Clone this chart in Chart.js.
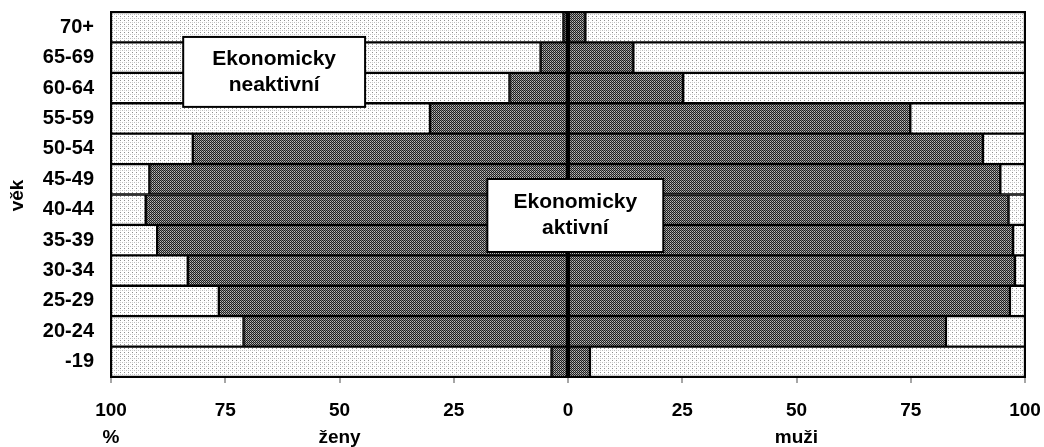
<!DOCTYPE html>
<html>
<head>
<meta charset="utf-8">
<script src="https://cdn.jsdelivr.net/npm/chart.js@4/dist/chart.umd.min.js"></script>
<style>
  html, body { margin: 0; padding: 0; background: #fff; }
  #wrap { width: 1044px; height: 447px; }
</style>
</head>
<body>
<div id="wrap"><canvas id="c" width="1044" height="447"></canvas></div>
<script>
// ---- data ----
const ageGroups = ['70+','65-69','60-64','55-59','50-54','45-49','40-44','35-39','30-34','25-29','20-24','-19'];
const womenActive   = [1.0, 6.0, 12.8, 30.2, 82.1, 91.6, 92.4, 89.9, 83.2, 76.4, 71.0, 3.6];
const womenInactive = [99.0, 94.0, 87.2, 69.8, 17.9, 8.4, 7.6, 10.1, 16.8, 23.6, 29.0, 96.4];
const menActive     = [3.8, 14.3, 25.2, 74.9, 90.8, 94.6, 96.4, 97.4, 97.8, 96.7, 82.7, 4.8];
const menInactive   = [96.2, 85.7, 74.8, 25.1, 9.2, 5.4, 3.6, 2.6, 2.2, 3.3, 17.3, 95.2];
const xTicks = [-100, -75, -50, -25, 0, 25, 50, 75, 100];
const sideLabels = ['%', 'ženy', 'muži'];

// ---- patterns ----
function makePattern(draw, w, h) {
  const c = document.createElement('canvas');
  c.width = w; c.height = h;
  const g = c.getContext('2d');
  draw(g);
  return g.createPattern(c, 'repeat');
}
const ctx = document.getElementById('c').getContext('2d');
const darkPat = makePattern(g => {
  for (let i = 0; i < 4; i++) for (let j = 0; j < 4; j++) {
    let col;
    if ((i + j) % 2 === 0) col = '#1e1e1e';
    else if (i % 2 === 0) col = '#bdbdbd';
    else col = '#858585';
    g.fillStyle = col; g.fillRect(i, j, 1, 1);
  }
}, 4, 4);
const lightPat = makePattern(g => {
  g.fillStyle = '#ffffff'; g.fillRect(0, 0, 4, 4);
  g.fillStyle = '#8f8f8f'; g.fillRect(0, 0, 1, 1);
  g.fillStyle = '#bdbdbd'; g.fillRect(2, 2, 1, 1);
  g.fillStyle = '#d2d2d2'; g.fillRect(0, 2, 1, 1);
}, 4, 4);

const FONT = '"Liberation Sans", Arial, Helvetica, sans-serif';

const common = {
  borderColor: '#000', borderWidth: 1.5, borderSkipped: false,
  barPercentage: 1.0, categoryPercentage: 1.0, stack: 's'
};

const overlay = {
  id: 'overlay',
  afterDraw(chart) {
    const c = chart.ctx, a = chart.chartArea;
    const xs = chart.scales.x, ys = chart.scales.y;
    c.save();
    // frame
    c.strokeStyle = '#000'; c.lineWidth = 2;
    c.strokeRect(a.left, a.top, a.right - a.left, a.bottom - a.top);
    // centre line
    const x0 = xs.getPixelForValue(0);
    c.lineWidth = 2.5;
    c.beginPath(); c.moveTo(x0, a.top); c.lineTo(x0, a.bottom); c.stroke();

    const yAt = v => {
      const p0 = ys.getPixelForValue(0), p1 = ys.getPixelForValue(1);
      return p0 + (p1 - p0) * v;
    };
    function box(cx, cy, wv, hr, lines) {
      const xl = xs.getPixelForValue(cx - wv / 2), xr = xs.getPixelForValue(cx + wv / 2);
      const yc = yAt(cy);
      const h = (yAt(1) - yAt(0)) * hr;
      c.fillStyle = '#fff';
      c.fillRect(xl, yc - h / 2, xr - xl, h);
      c.strokeStyle = '#000'; c.lineWidth = 2;
      c.strokeRect(xl, yc - h / 2, xr - xl, h);
      c.fillStyle = '#000';
      c.font = 'bold 21px ' + FONT;
      c.textAlign = 'center'; c.textBaseline = 'middle';
      const xc = (xl + xr) / 2;
      c.fillText(lines[0], xc, yc - 13);
      c.fillText(lines[1], xc, yc + 13);
    }
    box(-64.3, 1.47, 39.8, 2.3, ['Ekonomicky', 'neaktivní']);
    box(1.6, 6.19, 38.5, 2.4, ['Ekonomicky', 'aktivní']);

    // axis title
    c.fillStyle = '#000';
    c.font = 'bold 19px ' + FONT;
    c.textAlign = 'center'; c.textBaseline = 'middle';
    c.save();
    c.translate(18, (a.top + a.bottom) / 2 + 1);
    c.rotate(-Math.PI / 2);
    c.fillText('věk', 0, 0);
    c.restore();
    // bottom labels
    const pos = [-100, -50, 50];
    sideLabels.forEach((t, i) => c.fillText(t, xs.getPixelForValue(pos[i]), 438));
    c.restore();
  }
};

new Chart(ctx, {
  type: 'bar',
  data: {
    labels: ageGroups,
    datasets: [
      Object.assign({ label: 'ženy aktivní', data: womenActive.map(v => -v), backgroundColor: darkPat }, common),
      Object.assign({ label: 'ženy neaktivní', data: womenInactive.map(v => -v), backgroundColor: lightPat }, common),
      Object.assign({ label: 'muži aktivní', data: menActive, backgroundColor: darkPat }, common),
      Object.assign({ label: 'muži neaktivní', data: menInactive, backgroundColor: lightPat }, common)
    ]
  },
  options: {
    indexAxis: 'y',
    responsive: false,
    animation: false,
    devicePixelRatio: 1,
    layout: { padding: { top: 12, right: 19, left: 0, bottom: 0 } },
    plugins: { legend: { display: false }, tooltip: { enabled: false } },
    scales: {
      x: {
        stacked: true, min: -100, max: 100,
        afterBuildTicks: s => { s.ticks = xTicks.map(v => ({ value: v })); },
        afterFit: s => { s.height = 70; s.paddingLeft = 0; s.paddingRight = 0; },
        grid: {
          color: c => (c.tick && c.tick.value === 0) ? '#000' : 'rgba(0,0,0,0)',
          lineWidth: 2, drawTicks: true, tickLength: 6, tickColor: '#888', tickWidth: 1.5
        },
        border: { display: true, color: '#000', width: 2 },
        ticks: {
          color: '#000', padding: 16,
          font: { family: FONT, size: 19, weight: 'bold' },
          callback: v => String(Math.abs(v))
        }
      },
      y: {
        stacked: true,
        afterFit: s => { s.width = 111; s.paddingTop = 0; s.paddingBottom = 0; },
        grid: { display: false, drawTicks: false },
        border: { display: true, color: '#000', width: 2 },
        ticks: {
          color: '#000', padding: 17,
          font: { family: FONT, size: 20, weight: 'bold' }
        }
      }
    }
  },
  plugins: [overlay]
});
</script>
</body>
</html>
